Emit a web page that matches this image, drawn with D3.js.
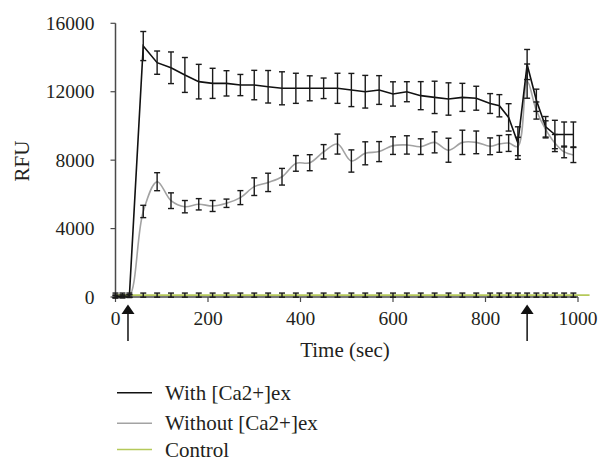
<!DOCTYPE html>
<html><head><meta charset="utf-8">
<script src="https://cdn.jsdelivr.net/npm/d3@7"></script>
</head><body style="margin:0">
<svg id="c" width="599" height="459" font-family="serif"></svg>
<script>
const times = [0,15,30,60,90,120,150,180,210,240,270,300,330,360,390,420,450,480,510,540,570,600,630,660,690,720,750,780,810,830,850,870,890,910,930,950,970,990];
const withCa = [30,40,60,14670,13700,13400,12980,12590,12490,12490,12390,12390,12290,12200,12200,12200,12200,12200,12100,12000,12100,11870,12000,11770,11670,11575,11670,11620,11310,11180,10500,9000,13590,11500,9950,9500,9500,9500];
const withCaErr = [80,80,80,850,680,925,1020,1010,880,740,620,860,950,965,880,730,600,880,970,955,840,710,585,820,945,945,820,700,580,650,800,950,880,650,600,830,730,730];
const withoutCa = [20,30,50,5000,6740,5630,5280,5420,5320,5480,5810,6450,6700,7030,7810,7850,8490,8940,7950,8400,8500,8850,8890,8790,9040,8580,9040,9040,8810,8950,9000,8800,12620,10900,9800,9000,8480,8300];
const withoutCaErr = [80,80,80,360,526,458,360,331,321,244,409,516,536,487,458,468,419,585,650,672,585,516,536,458,614,702,711,663,490,490,490,536,1000,500,500,500,340,440];
const controlTimes = times.concat([1025]);
const control = [110,110,110,110,110,110,110,110,110,110,110,110,110,110,110,110,110,110,110,110,110,110,110,110,110,110,110,110,110,110,110,110,110,110,110,110,110,110,110];
const controlErr = [120,120,120,120,120,120,120,120,120,120,120,120,120,120,120,120,120,120,120,120,120,120,120,120,120,120,120,120,120,120,120,120,120,120,120,120,120,120,0];
const xTicks = [0,200,400,600,800,1000];
const yTicks = [0,4000,8000,12000,16000];
const arrowTimes = [27,890];
const seriesNames = ["With [Ca2+]ex","Without [Ca2+]ex","Control"];
const seriesColors = ["#111111","#a3a3a3","#b5c95a"];

const FONT = "serif";
const svg = d3.select("#c");
const x = d3.scaleLinear().domain([0,1000]).range([115.5,578]);
const y = d3.scaleLinear().domain([0,16000]).range([297,23.3]);
const axisColor = "#4a4a4a";

function txt(sel){ return sel.attr("font-family",FONT).attr("fill","#231f20"); }

// axes
const gx = svg.append("g").attr("transform","translate(0,297)");
gx.append("line").attr("x1",x(0)).attr("x2",x(1000)).attr("stroke",axisColor).attr("stroke-width",1.5);
xTicks.forEach(t=>{
  gx.append("line").attr("x1",x(t)).attr("x2",x(t)).attr("y1",0).attr("y2",5).attr("stroke",axisColor).attr("stroke-width",1.2);
  txt(gx.append("text")).attr("x",x(t)).attr("y",28).attr("text-anchor","middle").attr("font-size",19.5).text(t);
});
const gy = svg.append("g").attr("transform","translate(115.5,0)");
gy.append("line").attr("y1",y(0)).attr("y2",y(16000)).attr("stroke",axisColor).attr("stroke-width",1.5);
yTicks.forEach(t=>{
  gy.append("line").attr("x1",-5).attr("x2",0).attr("y1",y(t)).attr("y2",y(t)).attr("stroke",axisColor).attr("stroke-width",1.2);
  txt(gy.append("text")).attr("x",-21).attr("y",y(t)+6.5).attr("text-anchor","end").attr("font-size",19.5).text(t);
});

// axis titles
txt(svg.append("text")).attr("x",345).attr("y",357).attr("text-anchor","middle").attr("font-size",21).text("Time (sec)");
txt(svg.append("text")).attr("transform","translate(29,161) rotate(-90)").attr("text-anchor","middle").attr("font-size",21).text("RFU");

// lines
const lineLin = d3.line().x(d=>x(d[0])).y(d=>y(d[1]));
const lineSmooth = d3.line().x(d=>x(d[0])).y(d=>y(d[1])).curve(d3.curveCatmullRom.alpha(0.5));
const g = svg.append("g");
g.append("path").datum(controlTimes.map((t,i)=>[t,control[i]])).attr("d",lineLin).attr("fill","none").attr("stroke",seriesColors[2]).attr("stroke-width",1.6);
g.append("path").datum(times.map((t,i)=>[t,withoutCa[i]])).attr("d",lineSmooth).attr("fill","none").attr("stroke",seriesColors[1]).attr("stroke-width",1.6);
g.append("path").datum(times.map((t,i)=>[t,withCa[i]])).attr("d",lineLin).attr("fill","none").attr("stroke",seriesColors[0]).attr("stroke-width",1.6);

// error bars
function errBars(ts, vals, errs){
  const eb = svg.append("g").attr("stroke","#1a1a1a").attr("stroke-width",1.4);
  ts.forEach((t,i)=>{
    if(!errs[i]) return;
    const cx = x(t), y1 = y(vals[i]+errs[i]), y2 = y(vals[i]-errs[i]);
    eb.append("line").attr("x1",cx).attr("x2",cx).attr("y1",y1).attr("y2",y2);
    eb.append("line").attr("x1",cx-3).attr("x2",cx+3).attr("y1",y1).attr("y2",y1);
    eb.append("line").attr("x1",cx-3).attr("x2",cx+3).attr("y1",y2).attr("y2",y2);
  });
}
errBars(controlTimes, control, controlErr);
errBars(times, withoutCa, withoutCaErr);
errBars(times, withCa, withCaErr);

// arrows
arrowTimes.forEach(t=>{
  const ax = x(t);
  svg.append("line").attr("x1",ax).attr("x2",ax).attr("y1",312).attr("y2",341).attr("stroke","#111").attr("stroke-width",1.5);
  svg.append("path").attr("d",`M${ax-6.5},314 L${ax},304.5 L${ax+6.5},314 Z`).attr("fill","#111");
});

// legend
const legY = [392.7,423.3,449.5];
seriesNames.forEach((n,i)=>{
  svg.append("line").attr("x1",117).attr("x2",152).attr("y1",legY[i]).attr("y2",legY[i]).attr("stroke",seriesColors[i]).attr("stroke-width",1.6);
  txt(svg.append("text")).attr("x",165).attr("y",legY[i]+7).attr("font-size",21).text(n);
});
</script></body></html>
